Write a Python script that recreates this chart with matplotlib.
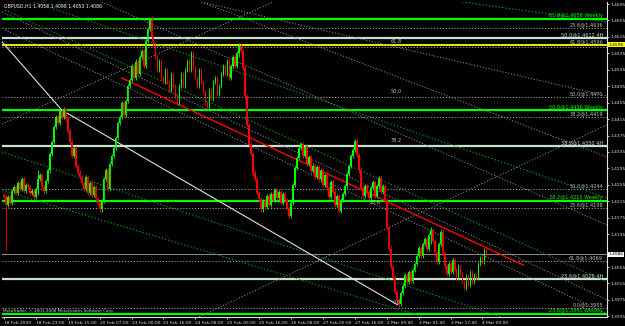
import matplotlib
matplotlib.use("Agg")
import matplotlib.pyplot as plt

# ---------------- data ----------------
symbol_text = "GBPUSD,H1 1.4058 1.4098 1.4053 1.4086"
first_open = 4230
# hourly closes, in pips (1.xxxx)
closes = [
    4225, 4205, 4225, 4210,
    4240, 4250, 4235, 4260, 4245, 4268, 4240, 4255,
    4250, 4235, 4240, 4225, 4245, 4270, 4280, 4250, 4240, 4265,
    4290, 4330, 4360, 4395, 4420,
    4405, 4435, 4420, 4440, 4415,
    4385, 4360, 4325, 4345, 4300, 4285, 4275,
    4260, 4245, 4275, 4235, 4260, 4230, 4250, 4220,
    4210, 4195, 4215,
    4270, 4290, 4245, 4305, 4325,
    4345, 4370, 4405, 4420, 4455, 4425, 4460,
    4495, 4510, 4545, 4515, 4555,
    4525, 4565, 4580, 4545, 4605,
    4635, 4655, 4615, 4595,
    4565, 4535, 4555, 4515, 4505,
    4535, 4505, 4485, 4525, 4495,
    4470, 4455, 4495, 4525, 4495, 4535,
    4555, 4535, 4575, 4540, 4515, 4495, 4535, 4505,
    4480, 4455, 4445, 4485, 4465,
    4505, 4515, 4475, 4495, 4525,
    4545, 4525, 4555, 4515, 4545, 4565, 4545,
    4575, 4592, 4580,
    4540, 4470, 4400, 4355, 4330,
    4285, 4270, 4235, 4220, 4195,
    4215, 4200, 4228, 4205, 4232,
    4218, 4242, 4222, 4238, 4212, 4232, 4218,
    4198, 4180, 4210,
    4255, 4295, 4320, 4345, 4355,
    4325, 4348, 4305, 4322, 4288,
    4302, 4275, 4298, 4268, 4288, 4255, 4278,
    4248, 4225, 4262, 4238, 4205, 4228, 4192, 4218, 4232, 4252,
    4282, 4300, 4325, 4340, 4362, 4328,
    4290, 4248, 4228, 4252, 4238,
    4222, 4248, 4262, 4228, 4252, 4272, 4238, 4252, 4218,
    4150, 4100, 4055, 4030, 3995, 3975,
    3965, 3992,
    4010, 4035, 4018, 4042, 4022, 4048, 4062,
    4082, 4102, 4082, 4112, 4122,
    4098, 4132, 4145, 4118, 4088,
    4068, 4112, 4140, 4088, 4058,
    4038, 4062, 4042, 4072, 4048, 4028, 4058, 4038, 4018,
    4005, 4032, 4012, 4042, 4018, 4036,
    4028, 4062, 4076, 4068, 4096, 4086,
]
# notable wicks: bar -> (high, low) in pips
wick_extremes = {1: (4232, 4096), 17: (4290, 4230), 28: (4442, 4410), 74: (4666, 4605),
                 118: (4600, 4565), 198: (3958, 3958), 214: (4152, 4112)}

time_labels = ["18 Feb 2009", "18 Feb 23:00", "19 Feb 15:00", "20 Feb 07:00",
               "23 Feb 00:00", "23 Feb 16:00", "24 Feb 08:00", "25 Feb 00:00",
               "25 Feb 16:00", "26 Feb 08:00", "27 Feb 00:00", "27 Feb 16:00",
               "2 Mar 09:00", "3 Mar 01:00", "3 Mar 17:00", "4 Mar 09:00"]
price_ticks = [1.3935, 1.3975, 1.4015, 1.4055, 1.4135, 1.4175, 1.4215, 1.4255,
               1.4295, 1.4335, 1.4375, 1.4415, 1.4455, 1.4495, 1.4535, 1.4575,
               1.4615, 1.4655, 1.4695]

# horizontal fibonacci levels: (price, label, kind)
levels = [
    (1.4658, "61.8@1.4658 Weekly", "weekly"),
    (1.4636, "23.6@1.4636", "dot"),
    (1.4612, "50.0@1.4612 4H", "h4"),
    (1.4596, "61.8@1.4596", "yellow"),
    (1.4590, "", "dot"),
    (1.4469, "50.0@1.4471", "dot"),
    (1.4436, "50.0@1.4436 Weekly", "weekly"),
    (1.4419, "38.2@1.4419", "dot"),
    (1.4350, "38.2@1.4350 4H", "h4"),
    (1.4244, "50.0@1.4244", "dot"),
    (1.4215, "38.2@1.4215 Weekly", "weekly"),
    (1.4198, "23.6@1.4198", "dot"),
    (1.4069, "61.8@1.4069", "dot"),
    (1.4026, "23.6@1.4026 4H", "h4"),
    (1.3955, "0.0@1.3955", "dot"),
    (1.3941, "23.6@1.3941 Weekly", "weekly"),
]
# fib ratio tags drawn near the retracement anchor: (bar, price, text)
fib_tags = [(197, 1.4598, "61.8"), (197, 1.4477, "50.0"), (197, 1.4357, "38.2"),
            (186, 1.4205, "23.6"), (197, 1.3963, "0.0")]
current_price = 1.4086
yellow_price = 1.4596

# trend / channel / fan lines: ((bar0, price0), (bar1, price1), kind)
trend_lines = [
    ((-1, 1.4676), (302.5, 1.3975), "graydot"),
    ((0.5, 1.4680), (302.5, 1.4019), "greendot"),
    ((0.5, 1.4632), (302.5, 1.3941), "graydot"),
    ((-1, 1.4403), (135, 1.4700), "graydot"),
    ((99, 1.4700), (302.5, 1.4471), "graydot"),
    ((230, 1.4700), (302.5, 1.4651), "greendot"),
    ((99, 1.4700), (302.5, 1.4323), "graydot"),
    ((12, 1.4705), (302.5, 1.4223), "greendot"),
    ((49, 1.4700), (302.5, 1.4157), "graydot"),
    ((98, 1.3934), (302.5, 1.4401), "graydot"),
    ((-1, 1.4335), (249, 1.3934), "greendot"),
    ((-1, 1.4242), (210.5, 1.3934), "greendot"),
    ((59, 1.4515), (260.5, 1.4060), "red"),
    ((29, 1.4437), (197.5, 1.3963), "white"),
    ((-1, 1.4603), (29, 1.4437), "white"),
]

# ---------------- drawing ----------------
W, H = 625, 326
YLO, YHI = 1.39334, 1.46999
fig = plt.figure(figsize=(W / 100, H / 100), dpi=100, facecolor="black")
ax = fig.add_axes([2 / W, (H - 317) / H, 605 / W, 315 / H], facecolor="black")
ax.set_xlim(-1, 302.5)
ax.set_ylim(YLO, YHI)

style = {
    "weekly": dict(color="#00FF00", lw=1.6, ls="-"),
    "dot": dict(color="#A0A0A0", lw=0.7, ls=(0, (1.2, 1.8))),
    "h4": dict(color="#C8E0D0", lw=1.6, ls="-"),
    "yellow": dict(color="#FFFF00", lw=1.3, ls="-"),
}
label_color = {"weekly": "#00FF00", "dot": "#C0C0C0", "h4": "#C8E0D0", "yellow": "#C0C0C0"}
for p, lab, kind in levels:
    ax.axhline(p, zorder=2, **style[kind])
    if lab:
        ax.text(300.5, p + 0.0002, lab, color=label_color[kind], fontsize=3.6,
                ha="right", va="bottom", zorder=6)

ax.axhline(current_price, color="#909090", lw=0.7, zorder=2)

lstyle = {
    "red": dict(color="#FF0000", lw=1.0, ls="-", zorder=3.5),
    "white": dict(color="#E0E0E0", lw=0.8, ls="-", zorder=3),
    "graydot": dict(color="#8C8C8C", lw=0.7, ls=(0, (1.2, 1.8)), zorder=3),
    "greendot": dict(color="#00A000", lw=0.8, ls=(0, (1.2, 1.8)), zorder=3),
}
for (x0, y0), (x1, y1), kind in trend_lines:
    ax.plot([x0, x1], [y0, y1], **lstyle[kind])

# candles
opens = [first_open] + closes[:-1]
for i, (o, c) in enumerate(zip(opens, closes)):
    hi = max(o, c) + 5
    lo = min(o, c) - 5
    if i in wick_extremes:
        hi = max(hi, wick_extremes[i][0])
        lo = min(lo, wick_extremes[i][1])
    col = "#00FF00" if c >= o else "#FF0000"
    ax.vlines(i, 1 + lo / 1e4, 1 + hi / 1e4, color=col, lw=0.6, zorder=4)
    b0, b1 = sorted((o, c))
    ax.bar(i, max(b1 - b0, 1) / 1e4, bottom=1 + b0 / 1e4, width=0.75,
           color=col, lw=0, zorder=4)

for b, p, t in fib_tags:
    ax.text(b, p, t, color="#C0C0C0", fontsize=3.6, ha="center", va="bottom", zorder=6)

for s in ["top", "left"]:
    ax.spines[s].set_visible(False)
for s in ["right", "bottom"]:
    ax.spines[s].set_color("#E0E0E0")
    ax.spines[s].set_linewidth(0.8)

ax.yaxis.tick_right()
ax.set_yticks(price_ticks)
ax.set_yticklabels([f"{v:.4f}" for v in price_ticks])
ax.tick_params(axis="y", colors="#E0E0E0", labelsize=3.2, length=1.5, width=0.6, pad=0.8)
ax.set_xticks(range(0, 16 * len(time_labels), 16))
ax.set_xticklabels(time_labels)
ax.tick_params(axis="x", colors="#E0E0E0", labelsize=3.2, length=1.5, width=0.6, pad=1.2)
for lab in ax.get_xticklabels():
    lab.set_horizontalalignment("left")

def axfrac(p):
    return (p - YLO) / (YHI - YLO)

ax.text(1.003, axfrac(current_price), f"{current_price:.4f}",
        transform=ax.transAxes, fontsize=3.2, color="black", va="center", ha="left",
        bbox=dict(boxstyle="square,pad=0.12", fc="white", ec="none"), zorder=10,
        clip_on=False)
ax.text(1.003, axfrac(yellow_price), f"{yellow_price:.4f}",
        transform=ax.transAxes, fontsize=3.2, color="black", va="center", ha="left",
        bbox=dict(boxstyle="square,pad=0.12", fc="#FFFF00", ec="none"), zorder=10,
        clip_on=False)

ax.text(0.004, 0.995, symbol_text, transform=ax.transAxes, color="white",
        fontsize=3.3, va="top", ha="left", zorder=10)
ax.text(0.002, 0.012, "MetaTrader, \u00a9 2001-2008 MetaQuotes Software Corp.",
        transform=ax.transAxes, color="#D0D0D0", fontsize=3.0, va="bottom",
        ha="left", zorder=10)

fig.savefig("out.png", dpi=100, facecolor="black")
